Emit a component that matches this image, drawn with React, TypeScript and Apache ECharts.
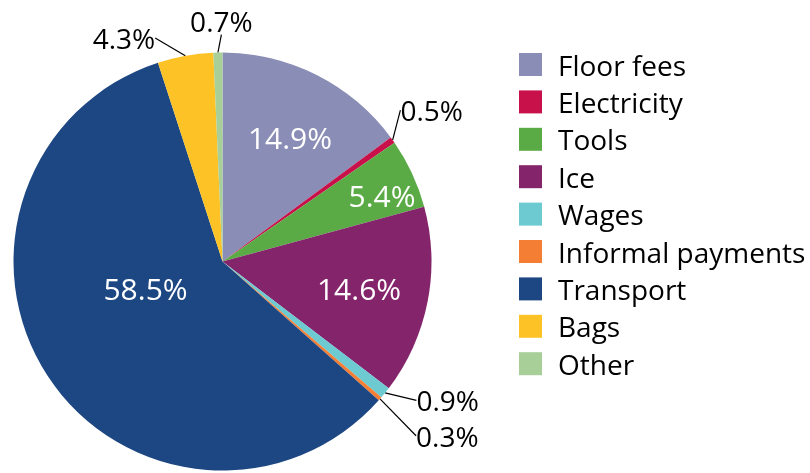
import React, { useEffect, useRef } from "react";
import * as echarts from "echarts";

const categories = [
  "Floor fees",
  "Electricity",
  "Tools",
  "Ice",
  "Wages",
  "Informal payments",
  "Transport",
  "Bags",
  "Other",
];
const shares = [14.9, 0.5, 5.4, 14.6, 0.9, 0.3, 58.5, 4.3, 0.7];
const colors = [
  "#8a8db5",
  "#c8104a",
  "#5aab46",
  "#84246b",
  "#6ccad0",
  "#f47f34",
  "#1d4782",
  "#fdc326",
  "#a9cf98",
];
const insideLabel = [true, false, true, true, false, false, true, false, false];
// label nudges (dx, dy) relative to the library's default placement
const labelNudge: [number, number][] = [
  [19, -28],
  [-7, -23],
  [62, -21],
  [31, 6],
  [17, 0],
  [22, 29],
  [13, -32],
  [-23, -6],
  [40, -20],
];

const FONT = "'Open Sans', 'Noto Sans', sans-serif";

export default function App() {
  const ref = useRef<HTMLDivElement>(null);
  useEffect(() => {
    const chart = echarts.init(ref.current!, null, { renderer: "svg" });
    const data = categories.map((name, i) => ({
      name,
      value: shares[i],
      itemStyle: { color: colors[i] },
      label: insideLabel[i]
        ? { position: "inside", color: "#ffffff", fontSize: 30 }
        : { position: "outside", color: "#000000", fontSize: 28 },
      labelLine: { show: !insideLabel[i] },
    }));
    chart.setOption({
      animation: false,
      textStyle: { fontFamily: FONT },
      legend: {
        orient: "vertical",
        left: 514,
        top: 45.5,
        itemWidth: 23,
        itemHeight: 23,
        itemGap: 9.4,
        icon: "rect",
        data: categories,
        textStyle: {
          fontFamily: FONT,
          fontSize: 28,
          color: "#000",
          padding: [0, 0, 0, 11],
        },
      },
      series: [
        {
          type: "pie",
          center: [222.5, 261.5],
          radius: [0, 209],
          startAngle: 90,
          clockwise: true,
          avoidLabelOverlap: false,
          silent: true,
          itemStyle: { borderWidth: 0 },
          label: {
            show: true,
            fontFamily: FONT,
            fontSize: 30,
            formatter: (p: any) => p.value.toFixed(1) + "%",
          },
          labelLine: {
            show: true,
            length: 12,
            length2: 0,
            minTurnAngle: 0,
            lineStyle: { color: "#000", width: 1.2 },
          },
          labelLayout: (p: any) => {
            const n = labelNudge[p.dataIndex];
            if (insideLabel[p.dataIndex]) return { dx: n[0], dy: n[1] };
            const r = p.labelRect;
            return {
              x: r.x + n[0],
              y: r.y + n[1],
              align: "left",
              verticalAlign: "top",
            };
          },
          data,
        },
      ],
    });
    return () => chart.dispose();
  }, []);
  return (
    <div
      ref={ref}
      style={{ position: "fixed", left: 0, top: 0, width: 810, height: 473 }}
    />
  );
}
